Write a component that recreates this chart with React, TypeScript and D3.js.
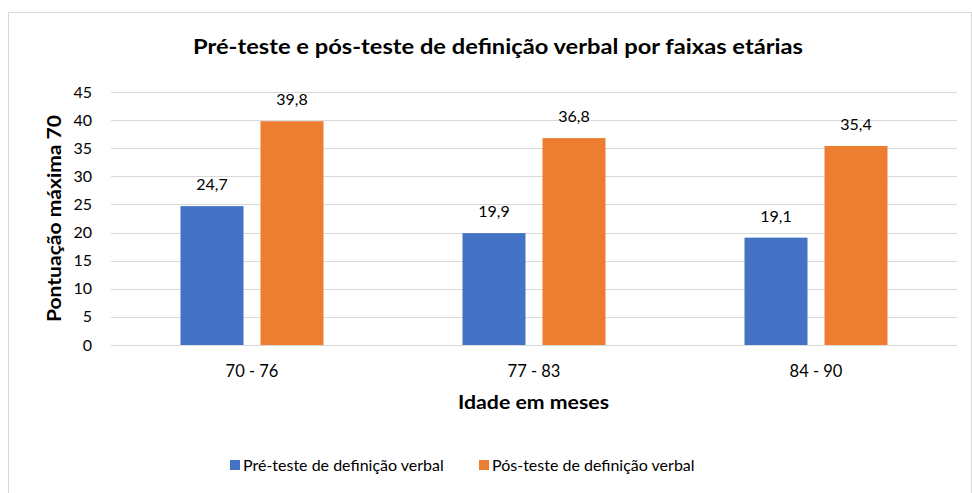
import React from "react";
import * as d3 from "d3";

const categories = ["70 - 76", "77 - 83", "84 - 90"];
const seriesNames = ["Pré-teste de definição verbal", "Pós-teste de definição verbal"];
const preValues = [24.7, 19.9, 19.1];
const postValues = [39.8, 36.8, 35.4];
const yTicks = [0, 5, 10, 15, 20, 25, 30, 35, 40, 45];
const colors = ["#4472C4", "#ED7D31"];

const W = 972;
const H = 493;
const FONT = "Lato, 'Open Sans', sans-serif";

export default function App() {
  const left = 111, right = 957, top = 92, bottom = 345;
  const x = d3.scaleBand<string>().domain(categories).range([left, right]);
  const y = d3.scaleLinear().domain([0, 45]).range([bottom, top]);
  const barW = 63;
  const gap = 17;
  const series = [preValues, postValues];
  const fmt = (v: number) => v.toFixed(1).replace(".", ",");

  return (
    <svg width={W} height={H} style={{ position: "absolute", left: 0, top: 0, fontFamily: FONT }}>
      <rect x={0} y={0} width={W} height={H} fill="#fff" />
      <rect x={8.5} y={12.5} width={W - 9} height={H - 12} fill="#fff" stroke="#d9d9d9" strokeWidth={1} />
      <text x={498} y={54} textAnchor="middle" fontSize={20} fontWeight="bold" fill="#000"
        textLength={610} lengthAdjust="spacingAndGlyphs">
        Pré-teste e pós-teste de definição verbal por faixas etárias
      </text>
      {yTicks.map((t) => (
        <g key={t}>
          <line x1={left} x2={right} y1={Math.round(y(t)) + 0.5} y2={Math.round(y(t)) + 0.5} stroke="#d9d9d9" strokeWidth={1} />
          <text x={92} y={y(t) + 5.5} textAnchor="end" fontSize={16} fill="#000">{t}</text>
        </g>
      ))}
      {categories.map((c, i) => {
        const cx = x(c)! + x.bandwidth() / 2;
        return (
          <g key={c}>
            {series.map((s, j) => {
              const bx = j === 0 ? cx - gap / 2 - barW : cx + gap / 2;
              return (
                <g key={j}>
                  <rect x={bx} y={y(s[i])} width={barW} height={bottom - y(s[i])} fill={colors[j]} />
                  <text x={bx + barW / 2} y={y(s[i]) - 16} textAnchor="middle" fontSize={16} fill="#000">
                    {fmt(s[i])}
                  </text>
                </g>
              );
            })}
            <text x={cx} y={377} textAnchor="middle" fontSize={16.5} fill="#000">{c}</text>
          </g>
        );
      })}
      <text x={533.5} y={409} textAnchor="middle" fontSize={19} fontWeight="bold" fill="#000"
        textLength={151} lengthAdjust="spacingAndGlyphs">
        Idade em meses
      </text>
      <text transform={`translate(61,218.5) rotate(-90)`} textAnchor="middle" fontSize={19} fontWeight="bold" fill="#000"
        textLength={207} lengthAdjust="spacingAndGlyphs">
        Pontuação máxima 70
      </text>
      {seriesNames.map((n, j) => {
        const lx = j === 0 ? 230 : 479;
        return (
          <g key={n}>
            <rect x={lx} y={460} width={10} height={10} fill={colors[j]} />
            <text x={lx + 13} y={470.5} fontSize={16} fill="#000">{n}</text>
          </g>
        );
      })}
    </svg>
  );
}
